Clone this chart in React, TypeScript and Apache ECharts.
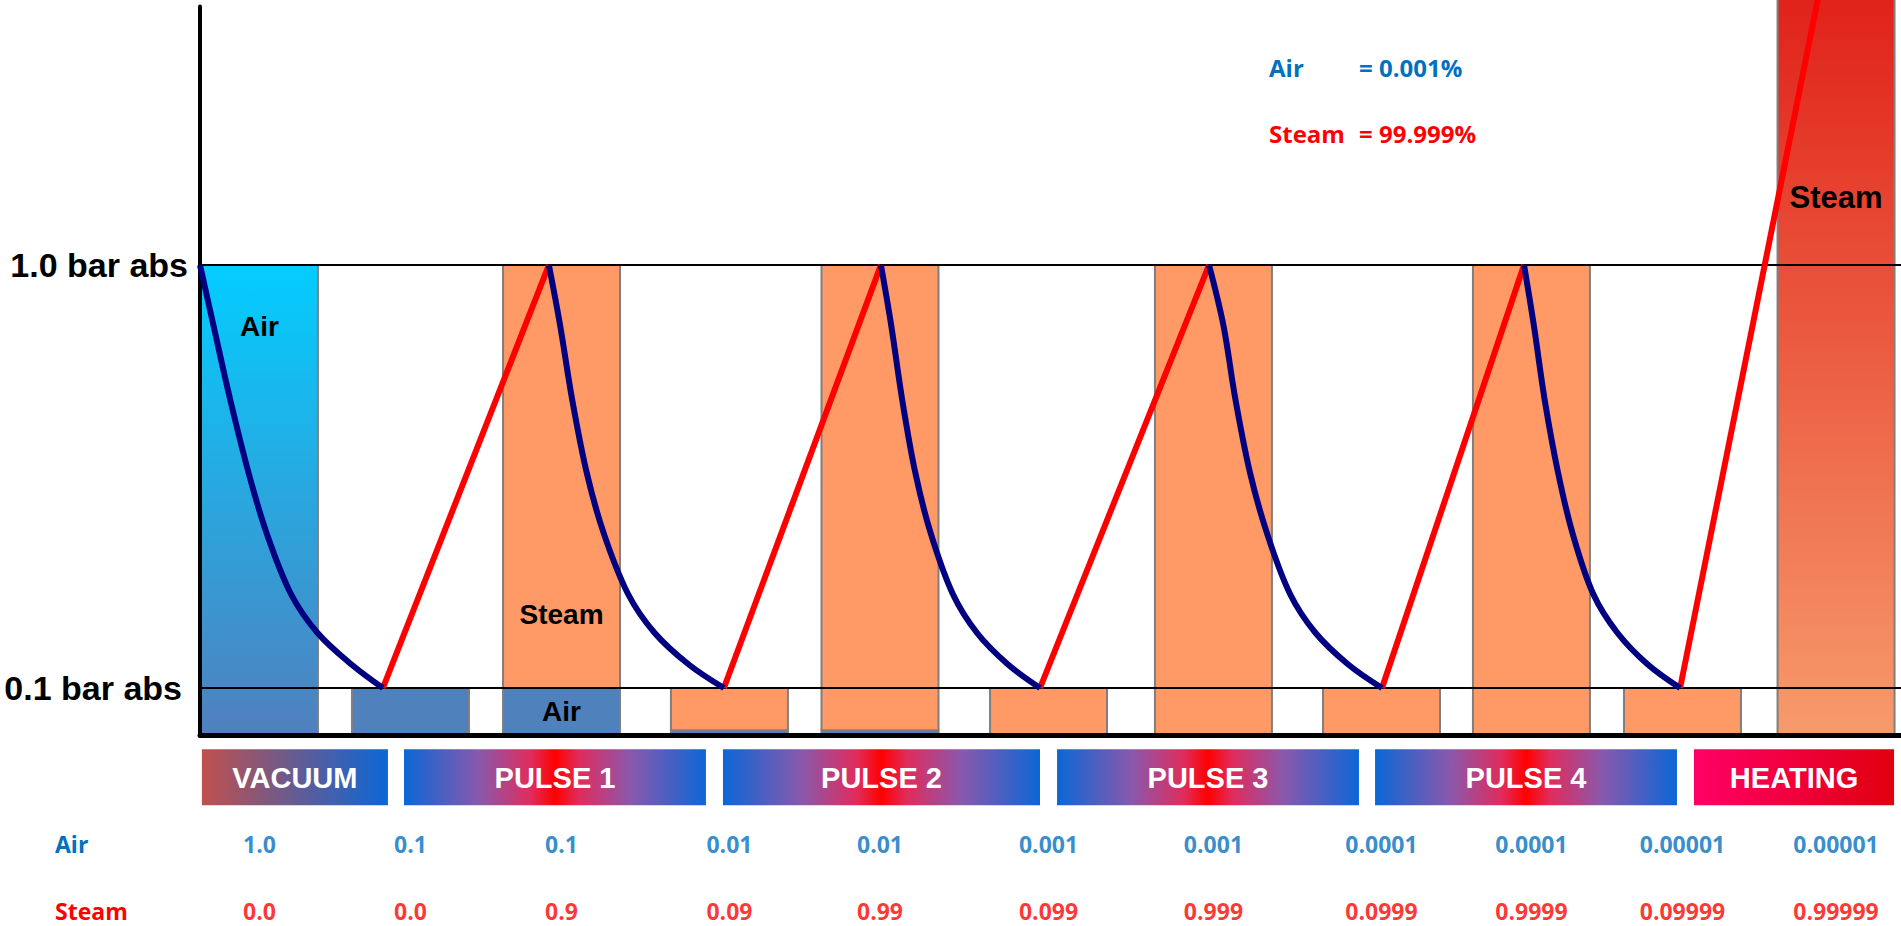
import React, { useEffect, useRef } from "react";
import * as echarts from "echarts";

// ---- data ----
// time position of each step (bar centres), in step units
const stepX = [0, 0.958, 1.916, 2.981, 3.936, 5.005, 6.051, 7.117, 8.068, 9.026, 10.0];
// partial pressures (bar abs) of air and steam at each step
const airText = ["1.0", "0.1", "0.1", "0.01", "0.01", "0.001", "0.001", "0.0001", "0.0001", "0.00001", "0.00001"];
const steamText = ["0.0", "0.0", "0.9", "0.09", "0.99", "0.099", "0.999", "0.0999", "0.9999", "0.09999", "0.99999"];
// heating bar reaches beyond the top of the chart
const heatingBarTop = 1.57;
// text written inside the bars
const airBarLabel = ["Air", "", "Air", "", "", "", "", "", "", "", ""];
const steamBarLabel = ["", "", "Steam", "", "", "", "", "", "", "", "Steam"];

// pressure reference lines
const pressureLevels = [1.0, 0.1];
const pressureLabels = ["1.0 bar abs", "0.1 bar abs"];

// process phases along the time axis
const phaseNames = ["VACUUM", "PULSE 1", "PULSE 2", "PULSE 3", "PULSE 4", "HEATING"];
const phaseStart = [-0.365, 0.917, 2.94, 5.059, 7.076, 9.099];
const phaseEnd = [0.815, 2.832, 4.951, 6.974, 8.991, 10.368];

// air evacuation curves [time, pressure]
const vacuumAirCurve = [[-0.377, 1.0], [-0.292, 0.872], [-0.185, 0.713], [-0.069, 0.558], [0.046, 0.429], [0.2, 0.3], [0.369, 0.217], [0.584, 0.15], [0.783, 0.1]];
const pulse1AirCurve = [[1.836, 1.0], [1.907, 0.872], [1.984, 0.713], [2.076, 0.558], [2.184, 0.429], [2.338, 0.3], [2.507, 0.217], [2.723, 0.15], [2.946, 0.1]];
const pulse2AirCurve = [[3.942, 1.0], [4.007, 0.872], [4.077, 0.713], [4.16, 0.558], [4.258, 0.429], [4.398, 0.3], [4.552, 0.217], [4.748, 0.15], [4.951, 0.1]];
const pulse3AirCurve = [[6.023, 1.0], [6.114, 0.872], [6.191, 0.713], [6.283, 0.558], [6.391, 0.429], [6.537, 0.3], [6.699, 0.217], [6.906, 0.15], [7.12, 0.1]];
const pulse4AirCurve = [[8.021, 1.0], [8.083, 0.872], [8.152, 0.713], [8.237, 0.558], [8.329, 0.429], [8.46, 0.3], [8.614, 0.217], [8.806, 0.15], [9.011, 0.1]];
// end of the heating steam line (above the chart top)
const heatingSteamEnd = [9.905, 1.6];

// final composition
const finalAir = "= 0.001%";
const finalSteam = "= 99.999%";

const airCurves = [vacuumAirCurve, pulse1AirCurve, pulse2AirCurve, pulse3AirCurve, pulse4AirCurve];

const BLUE_TXT = "#0070c0";
const RED_TXT = "#ff0000";
const ARIAL = "'Liberation Sans', Arial, sans-serif";
const CAL = "'Open Sans', 'Noto Sans', sans-serif";
const BAR_W = 117;

function phaseFill(name: string) {
  if (name === "VACUUM") {
    return new echarts.graphic.LinearGradient(0, 0, 1, 0, [
      { offset: 0, color: "#c0504d" },
      { offset: 1, color: "#0b67d6" },
    ]);
  }
  if (name === "HEATING") {
    return new echarts.graphic.LinearGradient(0, 0, 1, 0, [
      { offset: 0, color: "#ff0066" },
      { offset: 1, color: "#e0000f" },
    ]);
  }
  return new echarts.graphic.LinearGradient(0, 0, 1, 0, [
    { offset: 0, color: "#0b67d6" },
    { offset: 0.25, color: "#8a58ac" },
    { offset: 0.42, color: "#e02c5c" },
    { offset: 0.5, color: "#ff0000" },
    { offset: 0.58, color: "#e02c5c" },
    { offset: 0.75, color: "#8a58ac" },
    { offset: 1, color: "#0b67d6" },
  ]);
}

export default function App() {
  const ref = useRef<HTMLDivElement>(null);

  useEffect(() => {
    if (!ref.current) return;
    const chart = echarts.init(ref.current, undefined, { renderer: "svg" });

    const lastIdx = stepX.length - 1;
    const barData = stepX.map((x, i) => [
      x,
      parseFloat(airText[i]),
      i === lastIdx ? heatingBarTop : parseFloat(steamText[i]),
    ]);

    const renderBars = (params: any, api: any) => {
      const i = params.dataIndex;
      const x = api.value(0);
      const air = api.value(1);
      const steam = api.value(2);
      const p0 = api.coord([x, 0]);
      const p1 = api.coord([x, air]);
      const p2 = api.coord([x, air + steam]);
      const left = p0[0] - BAR_W / 2;
      const children: any[] = [];
      const airFill =
        i === 0
          ? new echarts.graphic.LinearGradient(0, 0, 0, 1, [
              { offset: 0, color: "#03cdff" },
              { offset: 1, color: "#5080bd" },
            ])
          : "#4f81bd";
      const steamFill =
        i === lastIdx
          ? new echarts.graphic.LinearGradient(0, 0, 0, 1, [
              { offset: 0, color: "#e0221a" },
              { offset: 1, color: "#f79b6c" },
            ])
          : "#ff9966";
      children.push({
        type: "rect",
        shape: { x: left, y: p1[1], width: BAR_W, height: p0[1] - p1[1] },
        style: { fill: airFill, stroke: "#7f7f7f", lineWidth: 2 },
      });
      if (steam > 0) {
        children.push({
          type: "rect",
          shape: { x: left, y: p2[1], width: BAR_W, height: p1[1] - p2[1] },
          style: { fill: steamFill, stroke: "#7f7f7f", lineWidth: 2 },
        });
      }
      const font = `bold 28px ${ARIAL}`;
      if (airBarLabel[i]) {
        const segH = p0[1] - p1[1];
        const ly = segH > 150 ? p1[1] + 61 : (p0[1] + p1[1]) / 2;
        children.push({
          type: "text", x: p0[0], y: ly,
          style: { text: airBarLabel[i], align: "center", verticalAlign: "middle", fill: "#000", font },
        });
      }
      if (steamBarLabel[i]) {
        const clippedTop = p2[1] < 0;
        const ly = clippedTop ? p2[1] + 200 : p1[1] - 74;
        children.push({
          type: "text", x: p0[0], y: ly,
          style: { text: steamBarLabel[i], align: "center", verticalAlign: "middle", fill: "#000", font: clippedTop ? `bold 31px ${ARIAL}` : font },
        });
      }
      return { type: "group", children };
    };

    const curveSeries: any[] = airCurves.map((c) => ({
      type: "line",
      xAxisIndex: 0,
      yAxisIndex: 0,
      data: c,
      showSymbol: false,
      smooth: 0.35,
      clip: false,
      z: 7,
      silent: true,
      lineStyle: { color: "#000080", width: 6, cap: "butt" },
    }));

    // reference pressure lines, hosted by the first curve series
    curveSeries[0].markLine = {
      silent: true, symbol: ["none", "none"], z: 5, animation: false,
      lineStyle: { color: "#000", width: 2, type: "solid" },
      label: { show: true, position: "start", color: "#000", fontFamily: ARIAL, fontWeight: "bold", fontSize: 34 },
      data: pressureLevels.map((p, i) => ({
        yAxis: p,
        label: { formatter: pressureLabels[i], distance: i === 0 ? 12 : 18 },
      })),
    };

    const steamLines = airCurves.map((c, k) => {
      const from = c[c.length - 1];
      const to = k < airCurves.length - 1 ? airCurves[k + 1][0] : heatingSteamEnd;
      return {
        type: "line",
        xAxisIndex: 0,
        yAxisIndex: 0,
        data: [from, to],
        showSymbol: false,
        clip: false,
        z: 6,
        silent: true,
        lineStyle: { color: "#ff0000", width: 6, cap: "butt" },
      };
    });

    const option: any = {
      animation: false,
      grid: [
        { left: 200, right: 0, top: 6.5, bottom: 209 },
        { left: 200, right: 0, top: 743.75, bottom: 0 },
      ],
      xAxis: [
        {
          type: "value", gridIndex: 0, min: -0.377, max: 10.412, z: 4,
          axisLine: { show: true, onZero: true, lineStyle: { color: "#000", width: 5 } },
          axisTick: { show: false }, axisLabel: { show: false }, splitLine: { show: false },
        },
        { type: "value", gridIndex: 1, min: -0.377, max: 10.412, show: false },
      ],
      yAxis: [
        {
          type: "value", gridIndex: 0, min: 0, max: 1.55, z: 4,
          axisLine: { show: true, onZero: false, lineStyle: { color: "#000", width: 4 } },
          axisTick: { show: false }, axisLabel: { show: false }, splitLine: { show: false },
        },
        {
          type: "category", gridIndex: 1, data: ["", "Air", "Steam"], inverse: true,
          axisLine: { show: false }, axisTick: { show: false }, splitLine: { show: false },
          axisLabel: {
            margin: 145, align: "left",
            formatter: (v: string) => (v === "Air" ? "{a|Air}" : v === "Steam" ? "{s|Steam}" : ""),
            rich: {
              a: { color: BLUE_TXT, fontFamily: CAL, fontWeight: "bold", fontSize: 23 },
              s: { color: RED_TXT, fontFamily: CAL, fontWeight: "bold", fontSize: 23 },
            },
          },
        },
      ],
      graphic: [
        { type: "text", x: 1269, y: 67, style: { text: "Air", fill: BLUE_TXT, font: `bold 24px ${CAL}`, verticalAlign: "middle" } },
        { type: "text", x: 1359, y: 67, style: { text: finalAir, fill: BLUE_TXT, font: `bold 24px ${CAL}`, verticalAlign: "middle" } },
        { type: "text", x: 1269, y: 133, style: { text: "Steam", fill: RED_TXT, font: `bold 24px ${CAL}`, verticalAlign: "middle" } },
        { type: "text", x: 1359, y: 133, style: { text: finalSteam, fill: RED_TXT, font: `bold 24px ${CAL}`, verticalAlign: "middle" } },
      ],
      series: [
        {
          type: "custom", xAxisIndex: 0, yAxisIndex: 0, clip: false, silent: true, z: 2,
          encode: { x: 0, y: [1, 2] },
          data: barData,
          renderItem: renderBars,
        },
        ...curveSeries,
        ...steamLines,
        {
          type: "custom", xAxisIndex: 1, yAxisIndex: 1, clip: false, silent: true,
          encode: { x: [0, 1], y: 2 },
          data: phaseNames.map((n, i) => [phaseStart[i], phaseEnd[i], 0]),
          renderItem: (params: any, api: any) => {
            const i = params.dataIndex;
            const a = api.coord([api.value(0), 0]);
            const b = api.coord([api.value(1), 0]);
            return {
              type: "group",
              children: [
                { type: "rect", shape: { x: a[0], y: a[1] - 28, width: b[0] - a[0], height: 56 }, style: { fill: phaseFill(phaseNames[i]) } },
                {
                  type: "text", x: (a[0] + b[0]) / 2, y: a[1] + 1,
                  style: { text: phaseNames[i], align: "center", verticalAlign: "middle", fill: "#fff", font: `bold 29px ${ARIAL}` },
                },
              ],
            };
          },
        },
        {
          type: "scatter", xAxisIndex: 1, yAxisIndex: 1, symbolSize: 1, silent: true,
          itemStyle: { color: "rgba(0,0,0,0)" },
          label: { show: true, position: "inside", color: BLUE_TXT, fontFamily: CAL, fontWeight: "bold", fontSize: 23 },
          data: airText.map((t, i) => ({ value: [stepX[i], 1], label: { formatter: t } })),
        },
        {
          type: "scatter", xAxisIndex: 1, yAxisIndex: 1, symbolSize: 1, silent: true,
          itemStyle: { color: "rgba(0,0,0,0)" },
          label: { show: true, position: "inside", color: RED_TXT, fontFamily: CAL, fontWeight: "bold", fontSize: 23 },
          data: steamText.map((t, i) => ({ value: [stepX[i], 2], label: { formatter: t } })),
        },
      ],
    };

    chart.setOption(option);
    return () => chart.dispose();
  }, []);

  return (
    <div
      ref={ref}
      style={{ position: "fixed", left: 0, top: 0, width: 1901, height: 944, background: "#fff" }}
    />
  );
}
